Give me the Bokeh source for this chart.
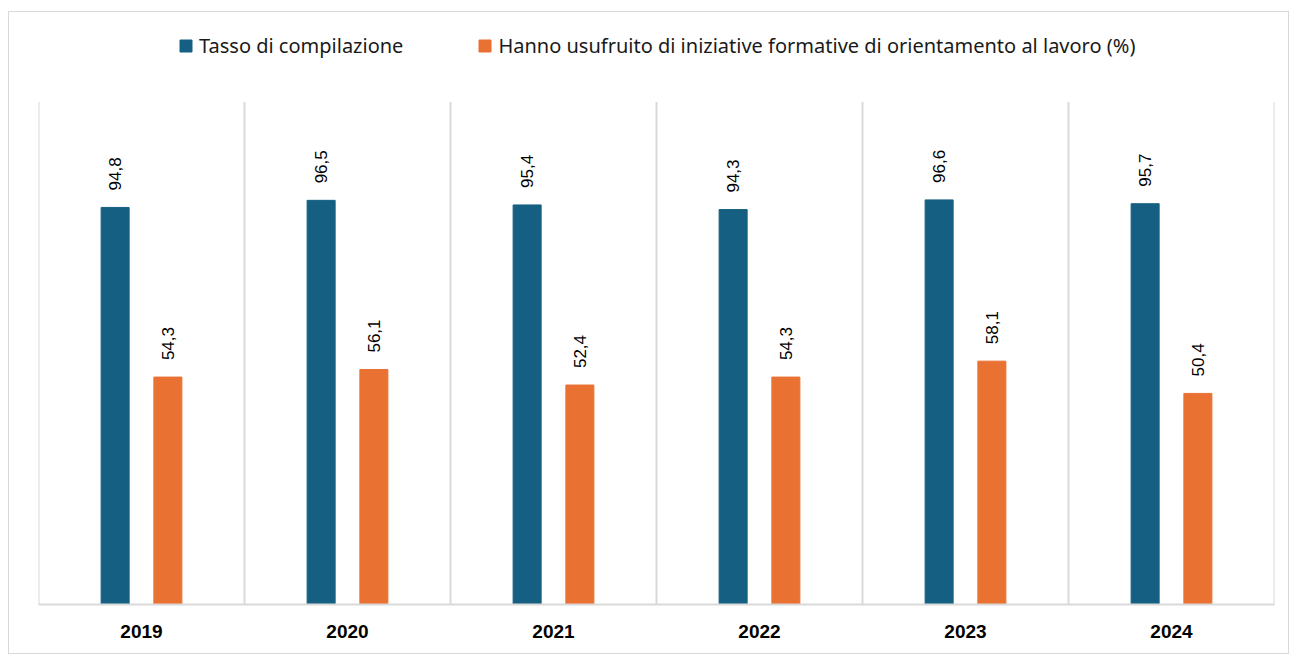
import numpy as np
from bokeh.plotting import figure
from bokeh.models import ColumnDataSource, Range1d, FixedTicker, Legend, LegendItem
from bokeh.core.properties import value
from bokeh.embed import file_html
from bokeh.resources import INLINE

years = ["2019", "2020", "2021", "2022", "2023", "2024"]
tasso = [94.8, 96.5, 95.4, 94.3, 96.6, 95.7]
orient = [54.3, 56.1, 52.4, 54.3, 58.1, 50.4]
series_names = ["Tasso di compilazione",
                "Hanno usufruito di iniziative formative di orientamento al lavoro (%)"]
colors = ["#156082", "#E97132"]
y_max = 120

n = len(years)
centers = np.arange(n) + 0.5
off = 0.128
bw = 0.136

def lab(v):
    return f"{v:.1f}".replace(".", ",")

src_a = ColumnDataSource(dict(x=centers - off, y=tasso, t=[lab(v) for v in tasso]))
src_b = ColumnDataSource(dict(x=centers + off, y=orient, t=[lab(v) for v in orient]))
bounds = np.arange(n + 1)

p = figure(width=1281, height=643, output_backend="svg", toolbar_location=None,
           x_range=Range1d(0, n), y_range=Range1d(0, 139.2),
           y_axis_location=None, min_border_left=29, min_border_right=16,
           min_border_top=9, min_border_bottom=51)
p.styles = {"border": "1px solid #d9d9d9", "margin-left": "8px", "margin-top": "11px"}
p.outline_line_color = None
p.background_fill_color = "white"
p.xgrid.grid_line_color = None
p.ygrid.grid_line_color = None

p.segment(x0=bounds, y0=[0] * len(bounds), x1=bounds, y1=[y_max] * len(bounds),
          line_color="#d9d9d9", line_width=2)

r1 = p.vbar(x="x", top="y", width=bw, source=src_a, color=colors[0])
r2 = p.vbar(x="x", top="y", width=bw, source=src_b, color=colors[1])

for s in (src_a, src_b):
    p.text(x="x", y="y", text="t", source=s, angle=np.pi / 2,
           text_align="left", text_baseline="middle", y_offset=-17,
           text_font=value("Liberation Sans"), text_font_size="17px",
           text_color="#000000")

p.xaxis.ticker = FixedTicker(ticks=list(centers))
p.xaxis.major_label_overrides = {float(c): y for c, y in zip(centers, years)}
p.xaxis.major_tick_line_color = None
p.xaxis.minor_tick_line_color = None
p.xaxis.axis_line_color = "#d9d9d9"
p.xaxis.axis_line_width = 2
p.xaxis.major_label_text_font = "Liberation Sans"
p.xaxis.major_label_text_font_style = "bold"
p.xaxis.major_label_text_font_size = "19px"
p.xaxis.major_label_text_color = "#000000"
p.xaxis.major_label_standoff = 14

legend = Legend(items=[LegendItem(label=series_names[0], renderers=[r1]),
                       LegendItem(label=series_names[1], renderers=[r2])],
                orientation="horizontal", location=(140, 545),
                label_text_font="Noto Sans", label_text_font_size="20px",
                label_text_color="#1a1a1a", glyph_width=15, glyph_height=15,
                label_standoff=6, spacing=74, padding=0, margin=0,
                border_line_color=None, background_fill_alpha=0)
p.add_layout(legend, "center")

open("out.html", "w").write(file_html(p, INLINE))
